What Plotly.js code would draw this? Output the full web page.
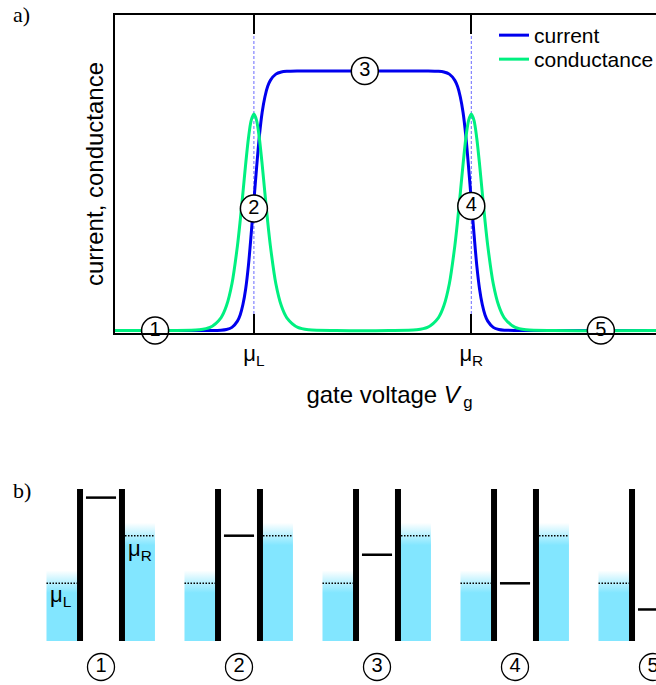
<!DOCTYPE html>
<html><head><meta charset="utf-8">
<script src="https://cdn.plot.ly/plotly-3.0.1.min.js"></script>
<style>html,body{margin:0;padding:0;overflow:hidden;background:#fff;} #chart{width:680px;height:685px;}</style>
</head><body><div id="chart"></div>
<script>
// ---------- panel a data ----------
const gateV = [0, 1.03, 1.53, 1.73, 1.93, 2.03, 2.13, 2.23, 2.28, 2.33, 2.38, 2.43, 2.48, 2.53, 2.58, 2.63, 2.68, 2.73, 2.78, 2.83, 2.93, 3.03, 3.13, 3.33, 3.53, 4.03,
               4.99, 5.49, 5.69, 5.89, 5.99, 6.09, 6.19, 6.24, 6.29, 6.34, 6.39, 6.44, 6.49, 6.54, 6.59, 6.64, 6.69, 6.74, 6.79, 6.89, 6.99, 7.09, 7.29, 7.49, 7.99, 10];
const current = [0, 0, 0, 0.0002, 0.0014, 0.004, 0.012, 0.036, 0.06, 0.10, 0.16, 0.25, 0.37, 0.50, 0.63, 0.75, 0.84, 0.90, 0.94, 0.964, 0.988, 0.996, 0.9986, 0.9998, 1.0, 1.0,
                 1.0, 1.0, 0.9998, 0.9986, 0.996, 0.988, 0.964, 0.94, 0.90, 0.84, 0.75, 0.63, 0.50, 0.37, 0.25, 0.16, 0.10, 0.06, 0.036, 0.012, 0.004, 0.0014, 0.0002, 0, 0, 0];
const conductance = [0, 0, 0.003, 0.012, 0.049, 0.095, 0.18, 0.326, 0.422, 0.53, 0.641, 0.74, 0.809, 0.834, 0.809, 0.74, 0.641, 0.53, 0.422, 0.326, 0.18, 0.095, 0.049, 0.012, 0.003, 0,
                     0, 0.003, 0.012, 0.049, 0.095, 0.18, 0.326, 0.422, 0.53, 0.641, 0.74, 0.809, 0.834, 0.809, 0.74, 0.641, 0.53, 0.422, 0.326, 0.18, 0.095, 0.049, 0.012, 0.003, 0, 0];
const muL = 2.53, muR = 6.49;
const tickLabels = ['μ<sub>L</sub>', 'μ<sub>R</sub>'];
const seriesNames = ['current', 'conductance'];
const stateX = [0.73, 2.53, 4.55, 6.49, 8.85];
const stateY = [0.0, 0.47, 1.0, 0.48, 0.0];
const stateLabels = ['1', '2', '3', '4', '5'];
// ---------- panel b data ----------
const dotLevels = [1.8, 1.0, 0.6, 0.0, -0.55];
const muLeftE = 0, muRightE = 1;
const bandBottom = -1.21, barrierTop = 1.98;

// ---------- geometry / style (px) ----------
const W = 680, H = 685;
const FONT = 'Liberation Sans, Arial, sans-serif';
const SERIF = 'Liberation Serif, Times New Roman, serif';
const aL = 115, aR = 664, aT = 15, aB = 333;
const yBasePx = 330.5, yUnitPx = 259.5;
const xRange = [0, 10];
const yRange = [(yBasePx - aB) / yUnitPx, (yBasePx - aT) / yUnitPx];
const TICKLEN = 19;
const bTop = 470;
const bCenter0 = 101, bStep = 138, eZeroPx = 583.3, eUnitPx = 47.6;
const x2Range = [(0 - bCenter0) / bStep, (W - bCenter0) / bStep];
const y2Range = [(eZeroPx - H) / eUnitPx, (eZeroPx - bTop) / eUnitPx];
const resIn = 0.152, resOut = 0.395, dotEdge = 0.174, lvlHalf = 0.109;
const CYAN = '#82e6ff';
const BLUE = '#0000ee', GREEN = '#00f080';

const traces = [];
// guide lines at mu_L, mu_R
const gTop = (yBasePx - (aT + TICKLEN + 1)) / yUnitPx, gBot = (yBasePx - (aB - TICKLEN)) / yUnitPx;
[muL, muR].forEach(m => traces.push({x: [m, m], y: [gBot, gTop], mode: 'lines', showlegend: false, hoverinfo: 'skip',
  line: {color: '#6a6aff', width: 1, dash: '3px,2px'}}));
traces.push({x: gateV, y: current, name: seriesNames[0], legend: 'legend', mode: 'lines', line: {color: BLUE, width: 3, shape: 'spline', smoothing: 0.8}});
traces.push({x: gateV, y: conductance, name: seriesNames[1], legend: 'legend2', mode: 'lines', line: {color: GREEN, width: 3, shape: 'spline', smoothing: 0.8}});
traces.push({x: stateX, y: stateY, mode: 'markers+text', text: stateLabels, textposition: 'middle center', showlegend: false, cliponaxis: false,
  marker: {symbol: 'circle', size: 27, color: '#fff', line: {color: '#000', width: 1.5}}, textfont: {family: FONT, size: 20, color: '#000'}, hoverinfo: 'skip'});

// ---------- panel b ----------
function rect(x0, x1, y0, y1, mu) {
  const f = Math.max(0, Math.min(1, (mu - 0.2 - y0) / (y1 - y0)));
  return {x: [x0, x1, x1, x0, x0], y: [y0, y0, y1, y1, y0], xaxis: 'x2', yaxis: 'y2', mode: 'lines', fill: 'toself',
    line: {width: 0, color: 'rgba(0,0,0,0)'}, showlegend: false, hoverinfo: 'skip',
    fillgradient: {type: 'vertical', start: y0, stop: y1, colorscale: [[0, CYAN], [f, CYAN], [1, '#ffffff']]}};
}
function seg(x0, x1, y0, y1, w, dash) {
  return {x: [x0, x1], y: [y0, y1], xaxis: 'x2', yaxis: 'y2', mode: 'lines', showlegend: false, hoverinfo: 'skip',
    line: {color: '#000', width: w, dash: dash || 'solid'}};
}
dotLevels.forEach((lv, i) => {
  traces.push(rect(i - resOut, i - resIn, bandBottom, muLeftE + 0.27, muLeftE));
  traces.push(rect(i + resIn, i + resOut - 0.004, bandBottom, muRightE + 0.27, muRightE));
  traces.push(seg(i - resOut, i - dotEdge, muLeftE, muLeftE, 1.5, '1.5px,1.5px'));
  traces.push(seg(i + dotEdge, i + resOut - 0.004, muRightE, muRightE, 1.5, '1.5px,1.5px'));
  traces.push(seg(i - resIn, i - resIn, bandBottom, barrierTop, 6));
  traces.push(seg(i + resIn, i + resIn, bandBottom, barrierTop, 6));
  traces.push(seg(i - lvlHalf, i + lvlHalf, lv, lv, 2.5));
});
traces.push({x: dotLevels.map((_, i) => i), y: dotLevels.map(() => (eZeroPx - 667) / eUnitPx), xaxis: 'x2', yaxis: 'y2',
  mode: 'markers+text', text: stateLabels, textposition: 'middle center', showlegend: false, cliponaxis: false, hoverinfo: 'skip',
  marker: {symbol: 'circle', size: 27, color: '#fff', line: {color: '#000', width: 1.3}}, textfont: {family: FONT, size: 20, color: '#000'}});

const legendBase = {xanchor: 'left', yanchor: 'top', bgcolor: 'rgba(0,0,0,0)', borderwidth: 0,
  font: {family: FONT, size: 21, color: '#000'}};
const layout = {
  width: W, height: H, margin: {l: 0, r: 0, t: 0, b: 0}, paper_bgcolor: '#fff', plot_bgcolor: 'rgba(0,0,0,0)',
  font: {family: FONT, color: '#000'},
  showlegend: true,
  legend: Object.assign({x: 494 / W, y: 1 - 15 / H}, legendBase),
  legend2: Object.assign({x: 494 / W, y: 1 - 39 / H}, legendBase),
  xaxis: {domain: [aL / W, aR / W], range: xRange, showgrid: false, zeroline: false, showline: true, linecolor: '#000', linewidth: 2,
    mirror: 'ticks', ticks: 'inside', ticklen: TICKLEN, tickwidth: 2, tickcolor: '#000', tickmode: 'array', tickvals: [muL, muR], ticktext: tickLabels,
    tickfont: {family: FONT, size: 22}, anchor: 'y',
    title: {text: 'gate voltage <i>V</i><sub>\u2009g</sub>', font: {family: FONT, size: 24}, standoff: 18}},
  yaxis: {domain: [1 - aB / H, 1 - aT / H], range: yRange, showgrid: false, zeroline: false, showline: true, linecolor: '#000', linewidth: 2,
    mirror: true, ticks: '', showticklabels: false, anchor: 'x',
    title: {text: 'current, conductance', font: {family: FONT, size: 24}, standoff: 3}},
  xaxis2: {domain: [0, 1], range: x2Range, visible: false, anchor: 'y2'},
  yaxis2: {domain: [0, 1 - bTop / H], range: y2Range, visible: false, anchor: 'x2'},
  annotations: [
    {text: 'a)', xref: 'paper', yref: 'paper', x: 11 / W, y: 1 - 15 / H, xanchor: 'left', yanchor: 'middle', showarrow: false, font: {family: SERIF, size: 22}},
    {text: 'b)', xref: 'paper', yref: 'paper', x: 11 / W, y: 1 - 491 / H, xanchor: 'left', yanchor: 'middle', showarrow: false, font: {family: SERIF, size: 22}},
    {text: 'μ<sub>L</sub>', xref: 'x2', yref: 'y2', x: -0.29, y: muLeftE - 0.27, showarrow: false, font: {family: FONT, size: 22}},
    {text: 'μ<sub>R</sub>', xref: 'x2', yref: 'y2', x: 0.283, y: muRightE - 0.30, showarrow: false, font: {family: FONT, size: 22}}
  ]
};
Plotly.newPlot('chart', traces, layout, {displayModeBar: false, staticPlot: true});
</script></body></html>
